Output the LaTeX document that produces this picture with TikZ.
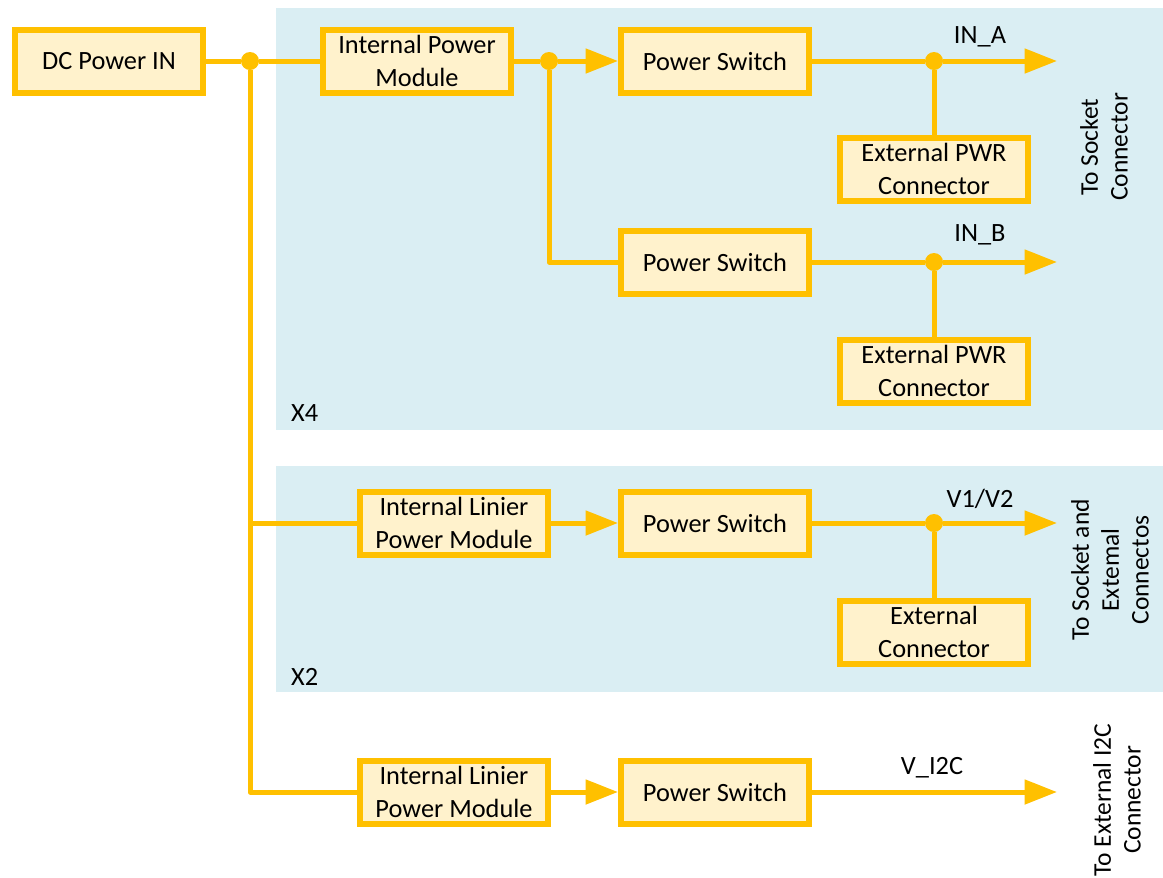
\documentclass[tikz,border=0pt]{standalone}
\usepackage{fontspec}
\setmainfont{Carlito}
\usetikzlibrary{arrows.meta,positioning}
\definecolor{psgold}{HTML}{FFC000}
\definecolor{psfill}{HTML}{FFF2CC}
\definecolor{psblue}{HTML}{DAEEF3}

\begin{document}
\begin{tikzpicture}[x=0.02cm, y=-0.02cm, font=\fontsize{15}{19}\selectfont,
  blockbox/.style={draw=psgold, fill=psfill, line width=0.12cm,
    minimum width=3.76cm, minimum height=1.26cm, align=center, inner sep=1pt},
  feed/.style={draw=psgold, line width=0.1cm, line join=round},
  feedarrow/.style={feed, -{Triangle[length=6.5mm,width=4.8mm]}},
  junction/.style={circle, fill=psgold, inner sep=0pt, minimum size=0.36cm},
  sidelabel/.style={rotate=90, align=center, font=\fontsize{14.5}{17}\selectfont}]
  \useasboundingbox (0,0) rectangle (1163,877);
  \fill[white] (0,0) rectangle (1163,877);
  % shaded groups
  \fill[psblue] (276,8) rectangle (1163,430);
  \fill[psblue] (276,466) rectangle (1163,692);
  \node[anchor=west] (xfour) at (285,413) {X4};
  \node[anchor=west] (xtwo) at (285,677) {X2};

  % blocks
  \node[blockbox] (dcin) at (109,61) {DC Power IN};
  \node[blockbox] (ipm) at (417,61) {Internal Power\\Module};
  \node[blockbox] (swa) at (715,61) {Power Switch};
  \node[blockbox] (swb) at (715,262) {Power Switch};
  \node[blockbox] (extpa) at (934,169) {External PWR\\Connector};
  \node[blockbox] (extpb) at (934,371) {External PWR\\Connector};
  \node[blockbox] (ilpa) at (454,523) {Internal Linier\\Power Module};
  \node[blockbox] (swc) at (715,523) {Power Switch};
  \node[blockbox] (extc) at (934,632) {External\\Connector};
  \node[blockbox] (ilpb) at (454,792) {Internal Linier\\Power Module};
  \node[blockbox] (swd) at (715,792) {Power Switch};

  % junctions and free ends
  \node[junction] (jin) at (250,61) {};
  \node[junction] (jmod) at (549,61) {};
  \node[junction] (jouta) at (934,61) {};
  \node[junction] (joutb) at (934,262) {};
  \node[junction] (joutc) at (934,523) {};
  \coordinate (enda) at (1057,61);
  \coordinate (endb) at (1057,262);
  \coordinate (endc) at (1057,523);
  \coordinate (endd) at (1057,792);

  % wiring
  \draw[feed] (dcin) -- (jin) -- (ipm);
  \draw[feed] (jin) |- (ilpa);
  \draw[feed] (jin) |- (ilpb);
  \draw[feed] (ipm) -- (jmod);
  \draw[feedarrow] (jmod) -- (swa);
  \draw[feed] (jmod) |- (swb);
  \draw[feedarrow] (ilpa) -- (swc);
  \draw[feedarrow] (ilpb) -- (swd);
  \draw[feed] (swa) -- (jouta);
  \draw[feed] (swb) -- (joutb);
  \draw[feed] (swc) -- (joutc);
  \draw[feedarrow] (jouta) -- (enda);
  \draw[feedarrow] (joutb) -- (endb);
  \draw[feedarrow] (joutc) -- (endc);
  \draw[feedarrow] (swd) -- (endd);
  \draw[feed] (jouta) -- (extpa);
  \draw[feed] (joutb) -- (extpb);
  \draw[feed] (joutc) -- (extc);

  % signal names
  \node (lblina) at (980,37) {IN\_A};
  \node (lblinb) at (980,235) {IN\_B};
  \node (lblv) at (980,499) {V1/V2};
  \node (lbli2c) at (932,768) {V\_I2C};
  \node[sidelabel] (tosock) at (1104,147) {To Socket\\Connector};
  \node[sidelabel] (tosockext) at (1110,570) {To Socket and\\Extemal\\Connectos};
  \node[sidelabel] (toi2c) at (1117,800) {To External I2C\\Connector};
\end{tikzpicture}
\end{document}
